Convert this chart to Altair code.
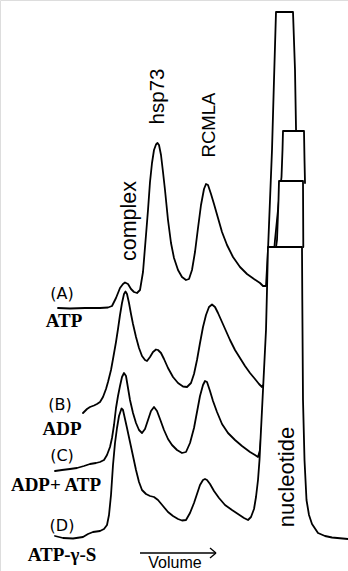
import altair as alt
import pandas as pd

# Elution profiles (volume position, signal depth from top)
vol_A = [58, 70, 85, 100, 108, 112, 116, 120, 123, 125, 128, 131, 134, 137, 140, 143, 146, 148, 150, 152, 154, 156,
         157.5, 159, 161, 163, 165, 168, 171, 174, 178, 182, 186, 189, 192, 195, 198, 201, 204, 206, 208, 211, 214,
         218, 222, 227, 233, 240, 247, 254, 260, 263, 266, 268, 270, 272, 274, 276, 293, 295, 296, 297]
sig_A = [308, 308.5, 308, 308, 307.5, 306, 298, 288, 284, 282.5, 284, 289, 292, 293, 290, 272, 235, 210, 182, 163, 150,
         144.5, 143, 145, 155, 172, 190, 220, 243, 258, 270, 277, 280, 279, 270, 252, 228, 205, 189, 184, 185, 194, 204,
         218, 232, 245, 257, 267, 274, 279, 283, 286, 286, 250, 200, 150, 80, 12, 12, 70, 128, 180]

vol_B = [83, 87, 90, 94, 97, 100, 103, 106, 108, 111, 113, 116, 118, 120, 122, 124, 125.5, 127, 129, 131, 133, 136,
         139, 142, 145, 147, 150, 153, 156, 158, 161, 164, 168, 173, 178, 183, 187, 191, 194, 197, 200, 203, 206, 209,
         212, 215, 218, 222, 226, 230, 235, 240, 245, 250, 255, 259, 262, 264, 267, 271, 275, 279, 281.5, 282.5, 283,
         304, 304.5, 305]
sig_B = [413, 409, 407, 405.5, 404, 402, 397, 389, 382, 370, 359, 342, 329, 315, 303, 294, 291.5, 294, 303, 314, 324,
         337, 348, 356, 360, 361, 357, 352, 349.5, 350, 353, 359, 368, 377, 383, 386.5, 387, 383, 374, 360, 343, 327,
         315, 307, 304.5, 307, 313, 322, 331, 340, 350, 358, 366, 373, 379, 384, 387, 384, 340, 290, 240, 200, 177, 150,
         131, 131, 160, 183]

vol_C = [55, 62, 70, 77, 84, 90, 96, 100, 104, 107, 110, 112, 114, 116, 118, 120, 122, 124, 126, 128, 130, 133, 136,
         139, 142, 145, 148, 151, 154, 157, 160, 164, 168, 172, 177, 182, 186, 190, 194, 197, 200, 203, 205, 207, 210,
         213, 217, 222, 228, 235, 242, 250, 255, 258, 260, 264, 267, 271, 275, 277, 278.5, 279, 303, 303.3]
sig_C = [471, 470, 469, 468, 466, 464, 463, 462, 460, 455, 447, 438, 425, 408, 396, 386, 377, 373, 376, 388, 400, 413,
         423, 430, 433, 429, 420, 411, 407, 411, 419, 430, 439, 445, 450, 453, 452, 443, 428, 412, 396, 385, 381, 382,
         391, 401, 412, 424, 433, 440, 446, 452, 455, 457, 450, 400, 340, 290, 255, 240, 200, 181, 181, 247]

vol_D = [55, 63, 73, 83, 88, 93, 100, 104, 107, 109, 111, 113, 115, 117, 119, 121.5, 123, 125, 127, 130,
         133, 136, 139, 142, 146, 150, 154, 158, 163, 168, 173, 178, 182, 186, 190, 194, 197, 200, 203, 205, 207, 210,
         214, 219, 225, 232, 238, 244, 248, 251, 254, 256, 258, 259.5, 261, 262.5, 264, 266, 267, 268, 302, 302.3,
         303, 304.5, 306.5, 309, 312, 318, 325, 332, 348]
sig_D = [536, 538, 538.5, 537, 534, 532, 531, 529, 525, 515, 495, 465, 443, 428, 416, 408.5, 410, 419,
         428, 442, 456, 470, 482, 490, 494, 496, 497, 500, 506, 512, 516, 519, 520.5, 520, 513, 503, 494, 485, 480,
         479, 480, 484, 491, 498, 505, 510, 514, 518, 520, 517, 509, 497, 480, 460, 430, 400, 370, 330, 290, 247, 247,
         300, 400, 460, 500, 515, 524, 533, 536, 537.5, 539]

traces = [("A", vol_A, sig_A), ("B", vol_B, sig_B), ("C", vol_C, sig_C), ("D", vol_D, sig_D)]

# Text labels
cond_text = ["(A)", "(B)", "(C)", "(D)"]
cond_x = [62, 60, 62, 62]
cond_y = [294, 405, 456, 526]

nuc_text = ["ATP", "ADP", "ADP+ ATP", "ATP-γ-S"]
nuc_x = [64, 62, 56, 62]
nuc_y = [321, 429, 485, 555]

peak_text = ["complex", "hsp73", "RCMLA", "nucleotide"]
peak_x = [129.5, 157.5, 208.5, 287]
peak_y = [221, 96.5, 125, 477]
peak_size = [21.5, 20.5, 18.5, 22]

axis_text = ["Volume"]
axis_x = [175]
axis_y = [563]

# Volume arrow segments
arrow_x1 = [140, 210, 210]
arrow_x2 = [216, 216, 216]
arrow_y1 = [553, 548, 558]
arrow_y2 = [553, 553, 553]

W, H = 348, 571
xs = alt.Scale(domain=[0, W])
ys = alt.Scale(domain=[0, H], reverse=True)

layers = []
for name, v, s in traces:
    df = pd.DataFrame({"v": v, "s": s, "i": range(len(v)), "base": H})
    area = alt.Chart(df).mark_area(color="white", opacity=1, interpolate="linear").encode(
        x=alt.X("v:Q", scale=xs, axis=None),
        y=alt.Y("s:Q", scale=ys, axis=None),
        y2="base:Q",
    )
    line = alt.Chart(df).mark_line(color="black", strokeWidth=1.8, interpolate="linear",
                                   strokeJoin="round", strokeCap="round").encode(
        x=alt.X("v:Q", scale=xs, axis=None),
        y=alt.Y("s:Q", scale=ys, axis=None),
        order="i:Q",
    )
    layers += [area, line]

cond_df = pd.DataFrame({"t": cond_text, "x": cond_x, "y": cond_y})
layers.append(alt.Chart(cond_df).mark_text(font="DejaVu Sans", fontSize=16, align="center", baseline="middle",
                                           color="black").encode(
    x=alt.X("x:Q", scale=xs, axis=None), y=alt.Y("y:Q", scale=ys, axis=None), text="t:N"))

nuc_df = pd.DataFrame({"t": nuc_text, "x": nuc_x, "y": nuc_y})
layers.append(alt.Chart(nuc_df).mark_text(font="Liberation Serif", fontWeight="bold", fontSize=19, align="center",
                                          baseline="middle", color="black").encode(
    x=alt.X("x:Q", scale=xs, axis=None), y=alt.Y("y:Q", scale=ys, axis=None), text="t:N"))

for t, x, y, sz in zip(peak_text, peak_x, peak_y, peak_size):
    pdf = pd.DataFrame({"t": [t], "x": [x], "y": [y]})
    layers.append(alt.Chart(pdf).mark_text(font="Liberation Sans", fontSize=sz, angle=270, align="center",
                                           baseline="middle", color="black").encode(
        x=alt.X("x:Q", scale=xs, axis=None), y=alt.Y("y:Q", scale=ys, axis=None), text="t:N"))

ax_df = pd.DataFrame({"t": axis_text, "x": axis_x, "y": axis_y})
layers.append(alt.Chart(ax_df).mark_text(font="Liberation Sans", fontSize=16, align="center", baseline="middle",
                                         color="black").encode(
    x=alt.X("x:Q", scale=xs, axis=None), y=alt.Y("y:Q", scale=ys, axis=None), text="t:N"))

arr_df = pd.DataFrame({"x1": arrow_x1, "x2": arrow_x2, "y1": arrow_y1, "y2": arrow_y2})
layers.append(alt.Chart(arr_df).mark_rule(color="black", strokeWidth=1.3).encode(
    x=alt.X("x1:Q", scale=xs, axis=None), x2="x2:Q",
    y=alt.Y("y1:Q", scale=ys, axis=None), y2="y2:Q"))

chart = alt.layer(*layers).properties(width=W, height=H, padding=0, autosize="none").configure_view(
    stroke=None).configure(background="white")

chart.save("out.html", embed_options={"renderer": "svg", "actions": False})
